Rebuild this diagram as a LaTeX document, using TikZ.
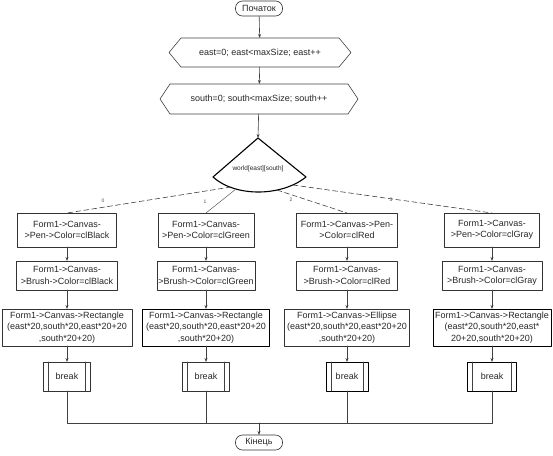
\documentclass[tikz,border=0pt]{standalone}
\usepackage{fontspec}
\setmainfont{Liberation Sans}
\usetikzlibrary{arrows.meta}

\begin{document}
\begin{tikzpicture}[x=1pt, y=-1pt, line cap=round, line join=round,
  font=\fontsize{9}{11.3}\selectfont,
  proc/.style={draw=black!80, line width=0.6pt, align=center, inner sep=1pt, outer sep=0pt, text=black!85},
  hard/.style={draw=black, line width=0.9pt},
  term/.style={proc, rounded corners=7pt, minimum width=47pt, minimum height=15pt, inner sep=0pt},
  hexa/.style={align=center, inner sep=0pt, outer sep=0pt, text=black!85},
  lnk/.style={draw=black!75, line width=0.6pt},
  arr/.style={lnk, -{Stealth[length=4pt,width=3pt]}},
  case/.style={lnk, dash pattern=on 5pt off 3pt},
  tag/.style={font=\fontsize{5}{6}\selectfont, text=black!70}]

\useasboundingbox (0,0) rectangle (553,455);

% -----------------------
% Column positions
% -----------------------
\def\ca{67}
\def\cb{206}
\def\cc{347}
\def\cd{492}

% -----------------------
% Header: start and the two loops
% -----------------------
\node[term] (start) at (259,8.5) {Початок};

\node[hexa, minimum width=158pt, minimum height=29pt] (h1) at (260,52.5) {east=0; east<maxSize; east++};
\draw[lnk] (h1.north west) -- (h1.north east) -- ([xshift=12pt]h1.east) -- (h1.south east)
  -- (h1.south west) -- ([xshift=-12pt]h1.west) -- cycle;

\node[hexa, minimum width=178pt, minimum height=30pt] (h2) at (259,99) {south=0; south<maxSize; south++};
\draw[lnk] (h2.north west) -- (h2.north east) -- ([xshift=10pt]h2.east) -- (h2.south east)
  -- (h2.south west) -- ([xshift=-10pt]h2.west) -- cycle;

% -----------------------
% Selector (sector shape)
% -----------------------
\coordinate (apex) at (258,138);
\coordinate (sl) at (213,177);
\coordinate (sr) at (306,177);
\draw[black, line width=1.1pt] (apex) -- (sl) .. controls (235,197) and (281,197) .. (sr) -- cycle;
\node[text=black!85, font=\fontsize{6.5}{8}\selectfont] (sel) at (258,169) {world[east][south]};

\draw[arr] (start) -- (h1);
\draw[arr] (h1) -- (h2);
\draw[arr] (h2) -- (apex);

% -----------------------
% Branch bodies
% -----------------------
\node[proc, minimum width=99pt, minimum height=34pt] (p1) at (\ca,230) {Form1->Canvas-\\>Pen->Color=clBlack};
\node[proc, minimum width=96pt, minimum height=34pt] (p2) at (\cb,230) {Form1->Canvas-\\>Pen->Color=clGreen};
\node[proc, minimum width=101pt, minimum height=34pt] (p3) at (\cc,230) {Form1->Canvas->Pen-\\>Color=clRed};
\node[proc, minimum width=95pt, minimum height=34pt] (p4) at (\cd,230) {Form1->Canvas-\\>Pen->Color=clGray};

\node[proc, minimum width=101pt, minimum height=29pt] (q1) at (\ca,275.5) {Form1->Canvas-\\>Brush->Color=clBlack};
\node[proc, minimum width=98pt, minimum height=29pt] (q2) at (\cb,275.5) {Form1->Canvas-\\>Brush->Color=clGreen};
\node[proc, minimum width=101pt, minimum height=29pt] (q3) at (\cc,275.5) {Form1->Canvas-\\>Brush->Color=clRed};
\node[proc, minimum width=100pt, minimum height=29pt] (q4) at (\cd,275.5) {Form1->Canvas-\\>Brush->Color=clGray};

\node[proc, minimum width=130pt, minimum height=37pt] (r1) at (\ca,327.5) {Form1->Canvas->Rectangle\\(east*20,south*20,east*20+20\\,south*20+20)};
\node[proc, hard, minimum width=127pt, minimum height=37pt] (r2) at (\cb,327.5) {Form1->Canvas->Rectangle\\(east*20,south*20,east*20+20\\,south*20+20)};
\node[proc, minimum width=125pt, minimum height=37pt] (r3) at (\cc,327.5) {Form1->Canvas->Ellipse\\(east*20,south*20,east*20+20\\,south*20+20)};
\node[proc, hard, minimum width=118pt, minimum height=37pt] (r4) at (\cd,327.5) {Form1->Canvas->Rectangle\\(east*20,south*20,east*\\20+20,south*20+20)};

\node[proc, minimum width=47pt, minimum height=29pt] (b1) at (\ca,376.5) {break};
\node[proc, minimum width=47pt, minimum height=29pt] (b2) at (\cb,376.5) {break};
\node[proc, hard, minimum width=42pt, minimum height=29pt] (b3) at (\cc,376.5) {break};
\node[proc, hard, minimum width=49pt, minimum height=29pt] (b4) at (\cd,376.5) {break};

% inner bars of the break blocks
\foreach \b in {b1,b2,b3,b4}{
  \draw[lnk] ([xshift=5pt]\b.north west) -- ([xshift=5pt]\b.south west);
  \draw[lnk] ([xshift=-5pt]\b.north east) -- ([xshift=-5pt]\b.south east);
}

\foreach \k in {1,2,3,4}{
  \draw[arr] (p\k) -- (q\k);
  \draw[arr] (q\k) -- (r\k);
  \draw[arr] (r\k) -- (b\k);
}

% -----------------------
% Cases leaving the selector
% -----------------------
\coordinate (s0) at (231,187);
\coordinate (s1) at (236,189);
\coordinate (s2) at (277,190);
\coordinate (s3) at (293,185);

\draw[case] (s0) -- (p1.north);
\draw[lnk, draw=black!55] (s1) -- (p2.north);
\draw[case] (s2) -- (p3.north);
\draw[case] (s3) -- (p4.north);

\node[tag] (t0) at (103,201) {0};
\node[tag] (t1) at (205,202) {1};
\node[tag] (t2) at (291,200) {2};
\node[tag] (t3) at (391,200) {3};

% -----------------------
% Join and end
% -----------------------
\coordinate (j1) at (\ca,423);
\coordinate (j4) at (\cd,423);
\coordinate (jm) at (259,423);
\node[term] (fin) at (259,442.5) {Кінець};

\draw[lnk] (b1.south) -- (j1) -- (j4) -- (b4.south);
\draw[lnk] (b2.south) -- (b2.south |- j1);
\draw[lnk] (b3.south) -- (b3.south |- j1);
\draw[arr] (jm) -- (fin);

\end{tikzpicture}
\end{document}
